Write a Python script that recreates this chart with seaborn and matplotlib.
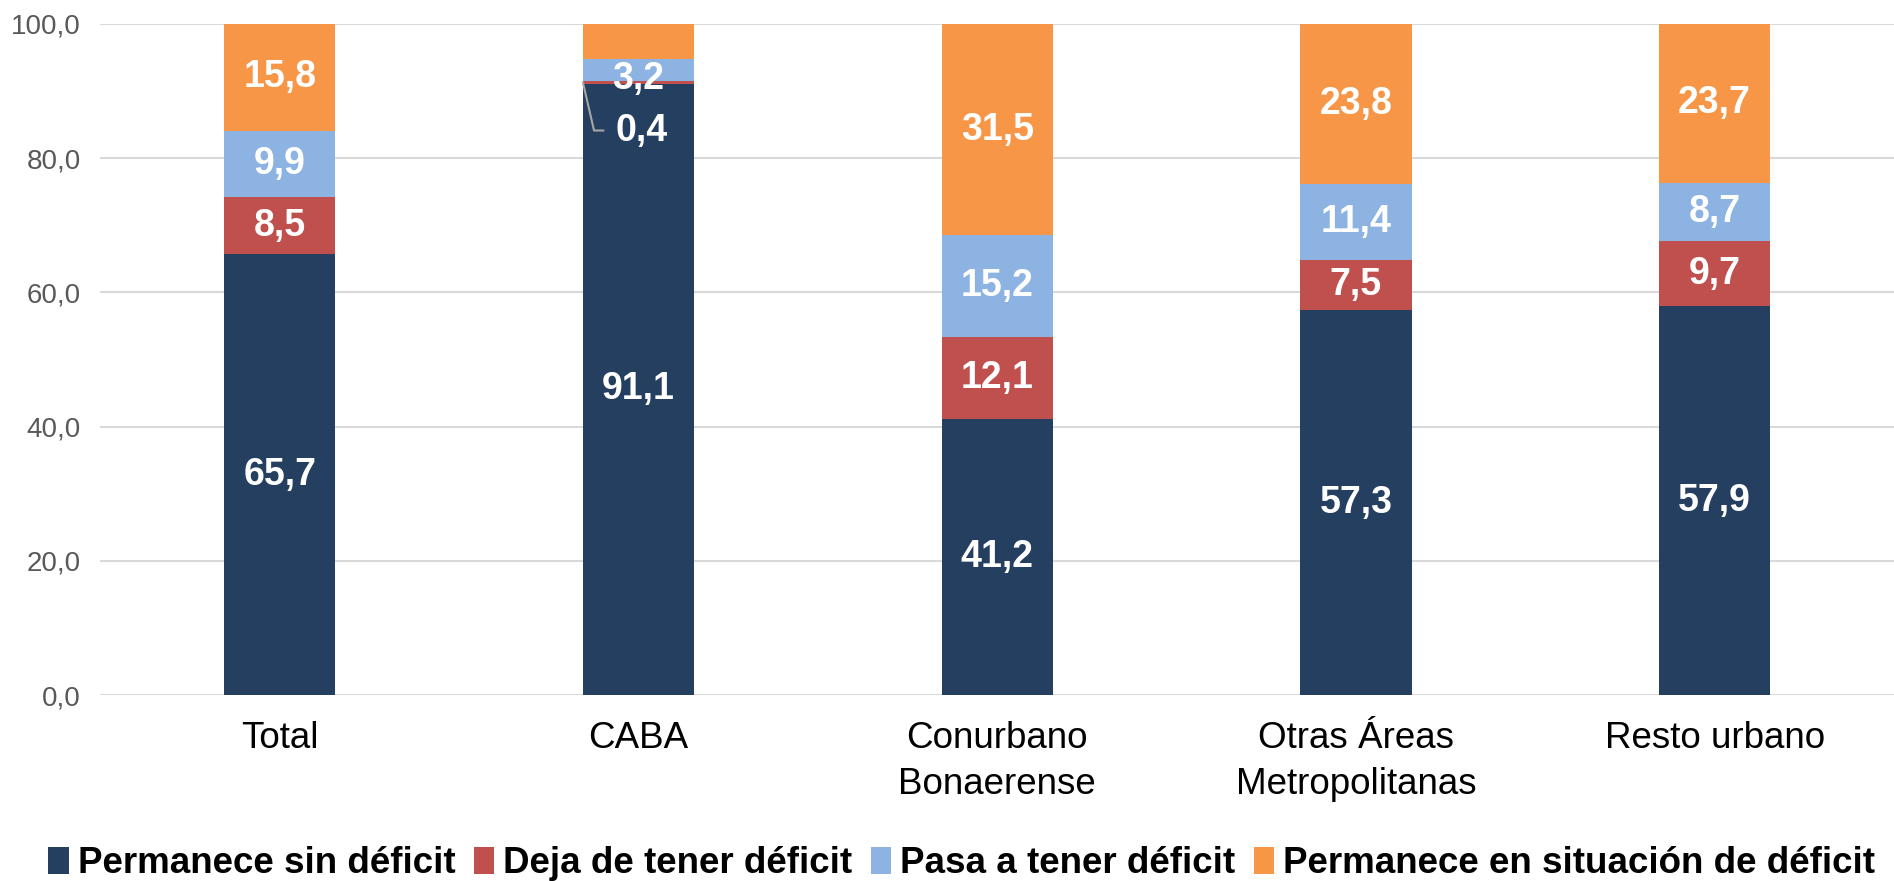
import numpy as np
import pandas as pd
import matplotlib
matplotlib.use("Agg")
import matplotlib.pyplot as plt
import seaborn as sns
from matplotlib.patches import Patch

sns.set_style("white")
plt.rcParams['font.family'] = ['Liberation Sans', 'DejaVu Sans']
plt.rcParams['text.color'] = 'black'

# datos
regiones = ["Total", "CABA", "Conurbano\nBonaerense", "Otras Áreas\nMetropolitanas", "Resto urbano"]
sin_deficit = [65.7, 91.1, 41.2, 57.3, 57.9]
deja_deficit = [8.5, 0.4, 12.1, 7.5, 9.7]
pasa_deficit = [9.9, 3.2, 15.2, 11.4, 8.7]
permanece_deficit = [15.8, 5.3, 31.5, 23.8, 23.7]
series = ["Permanece sin déficit", "Deja de tener déficit", "Pasa a tener déficit",
          "Permanece en situación de déficit"]
colores = ["#243F60", "#C0504D", "#8DB3E2", "#F79646"]
mostrar_permanece = [True, False, True, True, True]

df = pd.DataFrame({"region": regiones, series[0]: sin_deficit, series[1]: deja_deficit,
                   series[2]: pasa_deficit, series[3]: permanece_deficit})
acum = df[series].cumsum(axis=1)
acum[series[3]] = acum[series[3]].clip(upper=100)

fig = plt.figure(figsize=(18.94, 8.81), dpi=100)
ax = fig.add_axes([0.053, 0.211, 0.947, 0.762])

# barras apiladas: se dibuja de la más alta a la más baja
for s, c in reversed(list(zip(series, colores))):
    sns.barplot(x=df["region"], y=acum[s], color=c, width=0.31, ax=ax,
                saturation=1, edgecolor="none")

# etiquetas
for i in range(len(regiones)):
    base = 0
    for j, s in enumerate(series):
        v = df[s][i]
        mid = base + v / 2
        base += v
        txt = f"{v:.1f}".replace(".", ",")
        if j == 3 and not mostrar_permanece[i]:
            continue
        if regiones[i] == "CABA" and j == 1:
            # etiqueta con línea guía
            ax.annotate(txt, xy=(i - 0.155, mid), xytext=(i - 0.065, mid - 7.2),
                        ha="left", va="center", color="white", fontsize=27, fontweight="bold",
                        arrowprops=dict(arrowstyle="-", color="#A6A6A6", lw=1.5,
                                        shrinkA=6, shrinkB=0, relpos=(0, 0.5),
                                        connectionstyle="angle,angleA=0,angleB=103,rad=0"))
            continue
        if regiones[i] == "CABA" and j == 2:
            mid = mid - 1.3
        ax.text(i, mid, txt, ha="center", va="center", color="white",
                fontsize=27, fontweight="bold")

ax.set_ylim(0, 100)
ax.set_xlim(-0.5, 4.5)
ax.set_yticks(np.arange(0, 101, 20))
ax.set_yticklabels([f"{t:.1f}".replace(".", ",") for t in np.arange(0, 101, 20)])
ax.yaxis.grid(True, color="#D9D9D9", lw=1.5)
ax.set_axisbelow(True)
ax.tick_params(axis="y", labelsize=20, colors="#595959", length=0, pad=14)
ax.tick_params(axis="x", labelsize=26.5, colors="black", length=0, pad=19)
for lbl in ax.get_xticklabels():
    lbl.set_linespacing(1.4)
ax.set_xlabel("")
ax.set_ylabel("")
sns.despine(ax=ax, left=True, bottom=True)

handles = [Patch(facecolor=c, edgecolor="none") for c in colores]
fig.legend(handles, series, loc="center left", bbox_to_anchor=(0.008, 0.02), ncol=4,
           frameon=False, handlelength=0.55, handleheight=0.75, handletextpad=0.25,
           columnspacing=0.5, labelcolor="black", prop={"size": 26.5, "weight": "bold"})

fig.savefig("out.png", dpi=100)
